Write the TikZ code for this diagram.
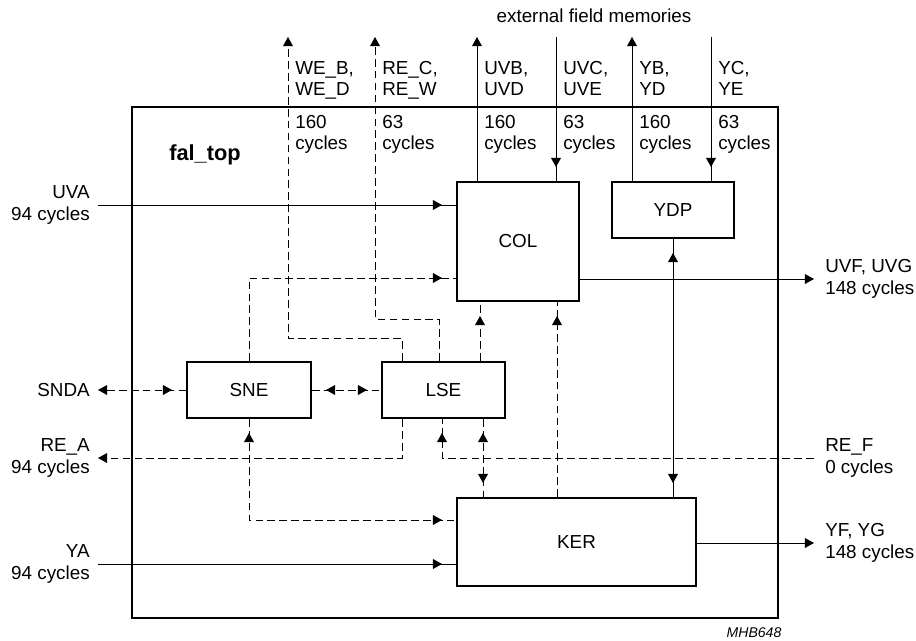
\documentclass[tikz,border=0pt]{standalone}
\usepackage{fontspec}
\setmainfont{Liberation Sans}
\usetikzlibrary{arrows.meta,decorations.markings}
\begin{document}
\begin{tikzpicture}[x=0.25mm,y=-0.25mm,font=\fontsize{13.4}{15.3}\selectfont,
  sig/.tip={Triangle[length=6.5pt,width=7pt]},
  blk/.style={draw,line width=1.4pt,inner sep=0pt,minimum height=14mm},
  lin/.style={line width=0.7pt},
  dsh/.style={lin,dash pattern=on 5.5pt off 3pt},
  tipin/.style={postaction=decorate,decoration={markings,mark=at position -3.5mm with {\arrow{sig}}}},
  tipboth/.style={postaction=decorate,decoration={markings,mark=at position 3.5mm with {\arrowreversed{sig}},mark=at position -3.5mm with {\arrow{sig}}}},
  lft/.style={anchor=east,align=right,inner xsep=2mm,inner ysep=0pt},
  rgt/.style={anchor=west,align=left,inner xsep=2.75mm,inner ysep=0pt},
  toplbl/.style={anchor=north west,align=left,inner sep=0pt}]
\useasboundingbox (0,0) rectangle (916,641);

\draw[line width=1.4pt] (132,107) rectangle (778,618);
\node[font=\fontsize{15.5}{18}\selectfont\bfseries,anchor=base west,inner sep=0pt] (title) at (169,161) {fal\_top};
\node[inner sep=0pt] (ext) at (594,16) {external field memories};
\node[font=\fontsize{10}{12}\selectfont\itshape,inner sep=0pt] (code) at (754,633) {MHB648};

\node[blk,minimum width=30.5mm,minimum height=29.75mm] (col) at (518,241.5) {COL};
\node[blk,minimum width=30.5mm] (ydp) at (673,210) {YDP};
\node[blk,minimum width=31mm] (sne) at (249,390) {SNE};
\node[blk,minimum width=30.75mm] (lse) at (443.5,390) {LSE};
\node[blk,minimum width=59.75mm,minimum height=22mm] (ker) at (576.5,542) {KER};

\node[lft] (uva) at (98,205) {UVA\\94 cycles};
\node[lft] (snda) at (98,390) {SNDA};
\node[lft] (rea) at (98,458) {RE\_A\\94 cycles};
\node[lft] (ya) at (98,564) {YA\\94 cycles};
\node[rgt] (uvf) at (814,279) {UVF, UVG\\148 cycles};
\node[rgt] (ref) at (814,458) {RE\_F\\0 cycles};
\node[rgt] (yf) at (814,543) {YF, YG\\148 cycles};

\coordinate (web) at (288,37);
\coordinate (rec) at (375,37);
\coordinate (uvb) at (477,37);
\coordinate (uvc) at (556,37);
\coordinate (yb) at (632,37);
\coordinate (yc) at (711,37);
\node[toplbl] (nweb) at (295,61) {WE\_B,\\WE\_D};
\node[toplbl] (nrec) at (382,61) {RE\_C,\\RE\_W};
\node[toplbl] (nuvb) at (484,61) {UVB,\\UVD};
\node[toplbl] (nuvc) at (563,61) {UVC,\\UVE};
\node[toplbl] (nyb) at (639,61) {YB,\\YD};
\node[toplbl] (nyc) at (718,61) {YC,\\YE};
\node[toplbl] (cweb) at (295,115) {160\\cycles};
\node[toplbl] (crec) at (382,115) {63\\cycles};
\node[toplbl] (cuvb) at (484,115) {160\\cycles};
\node[toplbl] (cuvc) at (563,115) {63\\cycles};
\node[toplbl] (cyb) at (639,115) {160\\cycles};
\node[toplbl] (cyc) at (718,115) {63\\cycles};

\draw[dsh,-{sig}] (lse.north -| 402,0) |- (288,338) -- (web);
\draw[dsh,-{sig}] (lse.north -| 439,0) |- (375,319) -- (rec);
\draw[lin,-{sig}] (col.north -| uvb) -- (uvb);
\draw[lin,tipin] (uvc) -- (uvc |- col.north);
\draw[lin,-{sig}] (ydp.north -| yb) -- (yb);
\draw[lin,tipin] (yc) -- (yc |- ydp.north);

\draw[lin,tipin] (uva.east) -- (uva.east -| col.west);
\draw[dsh,tipin] (sne.north) |- (col.west |- 0,278);
\draw[dsh,tipin] (lse.north -| 480,0) -- (col.south -| 480,0);
\draw[dsh,tipin] (ker.north -| 557,0) -- (col.south -| 557,0);
\draw[lin,-{sig}] (col.east |- uvf.west) -- (uvf.west);
\draw[lin,tipboth] (ydp.south) -- (ydp.south |- ker.north);

\draw[dsh,{sig}-,tipin] (snda.east) -- (sne.west);
\draw[dsh,tipboth] (sne.east) -- (lse.west);
\draw[dsh,-{sig}] (lse.south -| 402,0) |- (rea.east);
\draw[dsh,tipin] (ref.west) -| (lse.south -| 442,0);
\draw[dsh,tipboth] (lse.south -| 483,0) -- (ker.north -| 483,0);
\draw[dsh,tipboth] (sne.south) |- (ker.west |- 0,520);

\draw[lin,tipin] (ya.east) -- (ya.east -| ker.west);
\draw[lin,-{sig}] (ker.east |- yf.west) -- (yf.west);
\end{tikzpicture}
\end{document}
